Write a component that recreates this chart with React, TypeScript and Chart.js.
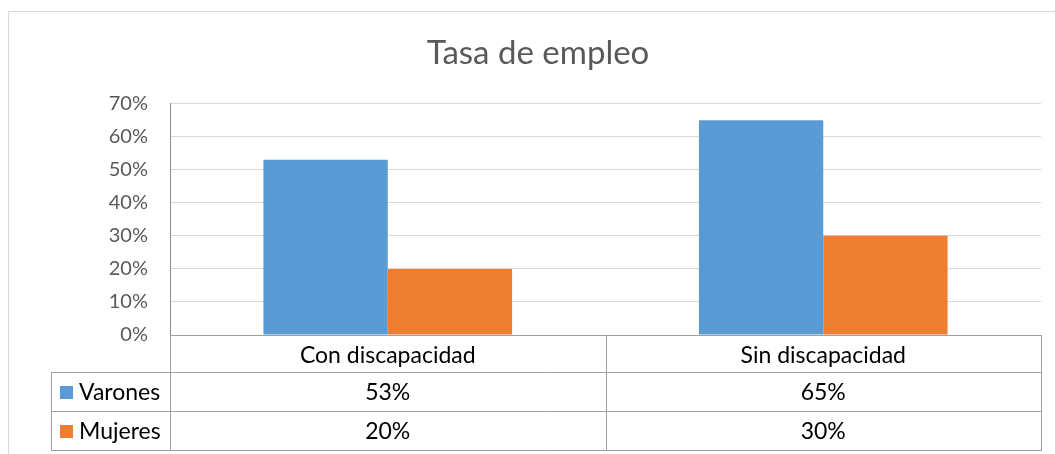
import React, { useEffect, useRef } from "react";
import { Chart, registerables } from "chart.js";

Chart.register(...registerables);

const categories = ["Con discapacidad", "Sin discapacidad"];
const seriesNames = ["Varones", "Mujeres"];
const varones = [0.53, 0.65];
const mujeres = [0.2, 0.3];
const yTickLabels = ["0%", "10%", "20%", "30%", "40%", "50%", "60%", "70%"];
const seriesColors = ["#5B9BD5", "#ED7D31"];

const FONT = "Lato, 'Open Sans', sans-serif";
const fmt = (v: number) => `${Math.round(v * 100)}%`;

const outerBorderPlugin = {
  id: "outerBorder",
  beforeDraw(chart: any) {
    const { ctx, width, height } = chart;
    ctx.save();
    ctx.fillStyle = "#FFFFFF";
    ctx.fillRect(0, 0, width, height);
    ctx.strokeStyle = "#D9D9D9";
    ctx.lineWidth = 1;
    ctx.beginPath();
    ctx.moveTo(8.5, height);
    ctx.lineTo(8.5, 11.5);
    ctx.lineTo(width, 11.5);
    ctx.stroke();
    ctx.restore();
  },
};

const dataTablePlugin = {
  id: "dataTable",
  afterDraw(chart: any) {
    const { ctx, chartArea, scales } = chart;
    const xs = scales.x;
    const top = Math.round(chartArea.bottom);
    const headerH = 37;
    const rowH = 39;
    const legendLeft = 51;
    const left = Math.round(chartArea.left);
    const right = Math.round(chartArea.right);
    const bottom = top + headerH + rowH * 2;
    const centers = categories.map((_, i) => xs.getPixelForValue(i));
    const mid = Math.round((centers[0] + centers[1]) / 2);
    const p = (v: number) => v + 0.5;

    ctx.save();
    ctx.strokeStyle = "#A0A0A0";
    ctx.lineWidth = 1;
    ctx.beginPath();
    ctx.moveTo(left, p(top));
    ctx.lineTo(right + 1, p(top));
    for (let r = 0; r <= 2; r++) {
      const y = p(top + headerH + r * rowH);
      ctx.moveTo(legendLeft, y);
      ctx.lineTo(right + 1, y);
    }
    ctx.moveTo(p(left), top);
    ctx.lineTo(p(left), bottom + 1);
    ctx.moveTo(p(mid), top);
    ctx.lineTo(p(mid), bottom + 1);
    ctx.moveTo(p(right), top);
    ctx.lineTo(p(right), bottom + 1);
    ctx.moveTo(p(legendLeft), top + headerH);
    ctx.lineTo(p(legendLeft), bottom + 1);
    ctx.stroke();

    const rows = [varones, mujeres];
    ctx.font = `23px ${FONT}`;
    ctx.textBaseline = "middle";
    rows.forEach((vals, r) => {
      const cy = top + headerH + r * rowH + rowH / 2 + 1;
      ctx.fillStyle = seriesColors[r];
      ctx.fillRect(60, Math.round(cy - 6.5), 13, 13);
      ctx.fillStyle = "#000000";
      ctx.textAlign = "left";
      ctx.fillText(seriesNames[r], 79, cy);
      ctx.textAlign = "center";
      vals.forEach((v, i) => {
        ctx.fillText(fmt(v), centers[i], cy);
      });
    });
    ctx.restore();
  },
};

export default function App() {
  const canvasRef = useRef<HTMLCanvasElement | null>(null);

  useEffect(() => {
    if (!canvasRef.current) return;
    const chart = new Chart(canvasRef.current, {
      type: "bar",
      data: {
        labels: categories,
        datasets: [
          {
            label: seriesNames[0],
            data: varones,
            backgroundColor: seriesColors[0],
            barPercentage: 1,
            categoryPercentage: 0.571,
          },
          {
            label: seriesNames[1],
            data: mujeres,
            backgroundColor: seriesColors[1],
            barPercentage: 1,
            categoryPercentage: 0.571,
          },
        ],
      },
      options: {
        responsive: false,
        animation: false,
        layout: { padding: { left: 35, right: 14, top: 0, bottom: 4 } },
        plugins: {
          legend: { display: false },
          tooltip: { enabled: false },
          title: {
            display: true,
            text: "Tasa de empleo",
            color: "#595959",
            font: { family: FONT, size: 33, weight: "normal" },
            padding: { top: 34, bottom: 30 },
          },
        },
        scales: {
          x: {
            grid: { display: false },
            border: { display: false },
            ticks: {
              color: "#000000",
              font: { family: FONT, size: 23 },
              padding: -1,
              maxRotation: 0,
            },
            afterFit: (scale: any) => {
              scale.height = 115;
            },
          },
          y: {
            min: 0,
            max: 0.7,
            grid: { color: "#D9D9D9", drawTicks: false },
            border: { display: true, color: "#8C8C8C" },
            ticks: {
              stepSize: 0.1,
              padding: 22,
              color: "#595959",
              font: { family: FONT, size: 20 },
              callback: (_v: any, i: number) => yTickLabels[i],
            },
            afterFit: (scale: any) => {
              scale.width = 135;
            },
          },
        },
      },
      plugins: [outerBorderPlugin, dataTablePlugin],
    });
    return () => chart.destroy();
  }, []);

  return (
    <div style={{ position: "fixed", left: 0, top: 0, width: 1055, height: 454 }}>
      <canvas ref={canvasRef} width={1055} height={454} style={{ display: "block" }} />
    </div>
  );
}
